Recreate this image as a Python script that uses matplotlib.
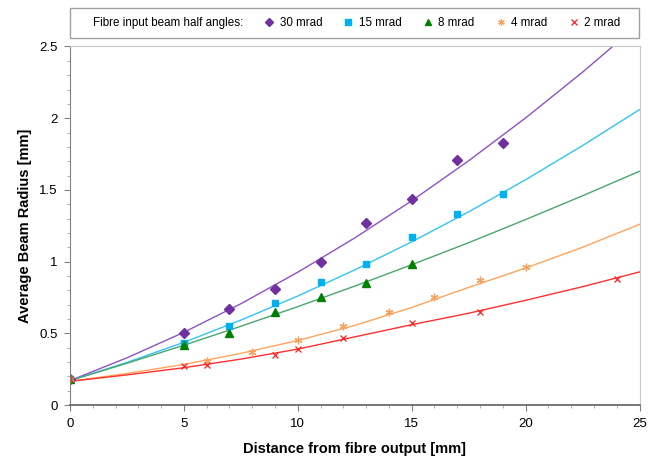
import matplotlib.pyplot as plt
from matplotlib.lines import Line2D
from matplotlib.patches import Rectangle
from matplotlib.ticker import MultipleLocator

plt.rcParams['font.family'] = ['Liberation Sans', 'DejaVu Sans']

# measured points
x30 = [0, 5, 7, 9, 11, 13, 15, 17, 19]
y30 = [0.18, 0.50, 0.67, 0.81, 1.00, 1.27, 1.44, 1.71, 1.83]
x15 = [0, 5, 7, 9, 11, 13, 15, 17, 19]
y15 = [0.18, 0.43, 0.55, 0.71, 0.86, 0.98, 1.17, 1.33, 1.47]
x8 = [0, 5, 7, 9, 11, 13, 15]
y8 = [0.18, 0.42, 0.50, 0.65, 0.75, 0.85, 0.98]
x4 = [0, 6, 8, 10, 12, 14, 16, 18, 20]
y4 = [0.18, 0.31, 0.37, 0.45, 0.55, 0.65, 0.75, 0.87, 0.96]
x2 = [0, 5, 6, 9, 10, 12, 15, 18, 24]
y2 = [0.18, 0.27, 0.28, 0.35, 0.39, 0.47, 0.57, 0.65, 0.88]

xfit = [0, 2.5, 5, 7.5, 10, 12.5, 15, 17.5, 20, 22.5, 25]
fit30 = [0.17, 0.329, 0.507, 0.706, 0.926, 1.165, 1.424, 1.703, 2.002, 2.321, 2.66]
fit15 = [0.17, 0.297, 0.437, 0.592, 0.760, 0.942, 1.138, 1.347, 1.571, 1.809, 2.06]
fit8 = [0.17, 0.291, 0.417, 0.549, 0.686, 0.829, 0.978, 1.132, 1.293, 1.459, 1.63]
fit4 = [0.165, 0.22, 0.283, 0.36, 0.45, 0.555, 0.68, 0.82, 0.955, 1.10, 1.26]
fit2 = [0.165, 0.21, 0.26, 0.32, 0.39, 0.475, 0.56, 0.64, 0.73, 0.825, 0.928]

labels = ['30 mrad', '15 mrad', '8 mrad', '4 mrad', '2 mrad']

fig = plt.figure(figsize=(6.58, 4.65), dpi=100)
ax = fig.add_axes([70/658, 60/465, 569.5/658, 358.5/465])

ax.plot(xfit, fit30, color='#8c52c4', lw=1.0)
ax.plot(xfit, fit15, color='#33c4f5', lw=1.0)
ax.plot(xfit, fit8, color='#4aa56e', lw=1.0)
ax.plot(xfit, fit4, color='#ffa45c', lw=1.0)
ax.plot(xfit, fit2, color='#ff3030', lw=1.0)

h30, = ax.plot(x30, y30, linestyle='none', marker='D', ms=4.6, color='#7030a0')
h15, = ax.plot(x15, y15, linestyle='none', marker='s', ms=4.3, color='#00b0f0')
h8, = ax.plot(x8, y8, linestyle='none', marker='^', ms=5.2, color='#008000')
h4, = ax.plot(x4, y4, linestyle='none', marker=(6, 2, 0), ms=5.5, mew=0.9, color='#f7a15e')
h2, = ax.plot(x2, y2, linestyle='none', marker='x', ms=5, mew=0.9, color='#ff2020')

ax.set_xlim(0, 25)
ax.set_ylim(0, 2.5)
ax.xaxis.set_major_locator(MultipleLocator(5))
ax.xaxis.set_minor_locator(MultipleLocator(1))
ax.yaxis.set_major_locator(MultipleLocator(0.5))
ax.yaxis.set_minor_locator(MultipleLocator(0.1))
ax.set_yticks([0, 0.5, 1, 1.5, 2, 2.5])
ax.set_yticklabels(['0', '0.5', '1', '1.5', '2', '2.5'])
ax.tick_params(which='major', length=4, color='#808080', labelsize=9.5, pad=5)
ax.tick_params(which='minor', length=2.5, color='#a0a0a0')

ax.spines['left'].set_color('#808080')
ax.spines['bottom'].set_color('#606060')
ax.spines['bottom'].set_linewidth(1.2)
ax.spines['top'].set_color('#c8c8c8')
ax.spines['right'].set_color('#c8c8c8')

ax.set_xlabel('Distance from fibre output [mm]', fontsize=10.5, fontweight='bold', labelpad=9)
ax.set_ylabel('Average Beam Radius [mm]', fontsize=10.5, fontweight='bold', labelpad=5)

# legend box across the top
fig.patches.append(Rectangle((70/658, 1 - 38/465), 569/658, 30/465, transform=fig.transFigure,
                             facecolor='white', edgecolor='#a0a0a0', lw=1.0))
blank = Line2D([], [], linestyle='none')
fig.legend([blank, h30, h15, h8, h4, h2], ['Fibre input beam half angles:'] + labels,
           loc='center', bbox_to_anchor=(349/658, 1 - 23/465), ncol=6, frameon=False,
           fontsize=8.4, handlelength=0.8, handletextpad=0.5, columnspacing=1.85,
           markerscale=0.85)

fig.savefig('out.png', dpi=100)
